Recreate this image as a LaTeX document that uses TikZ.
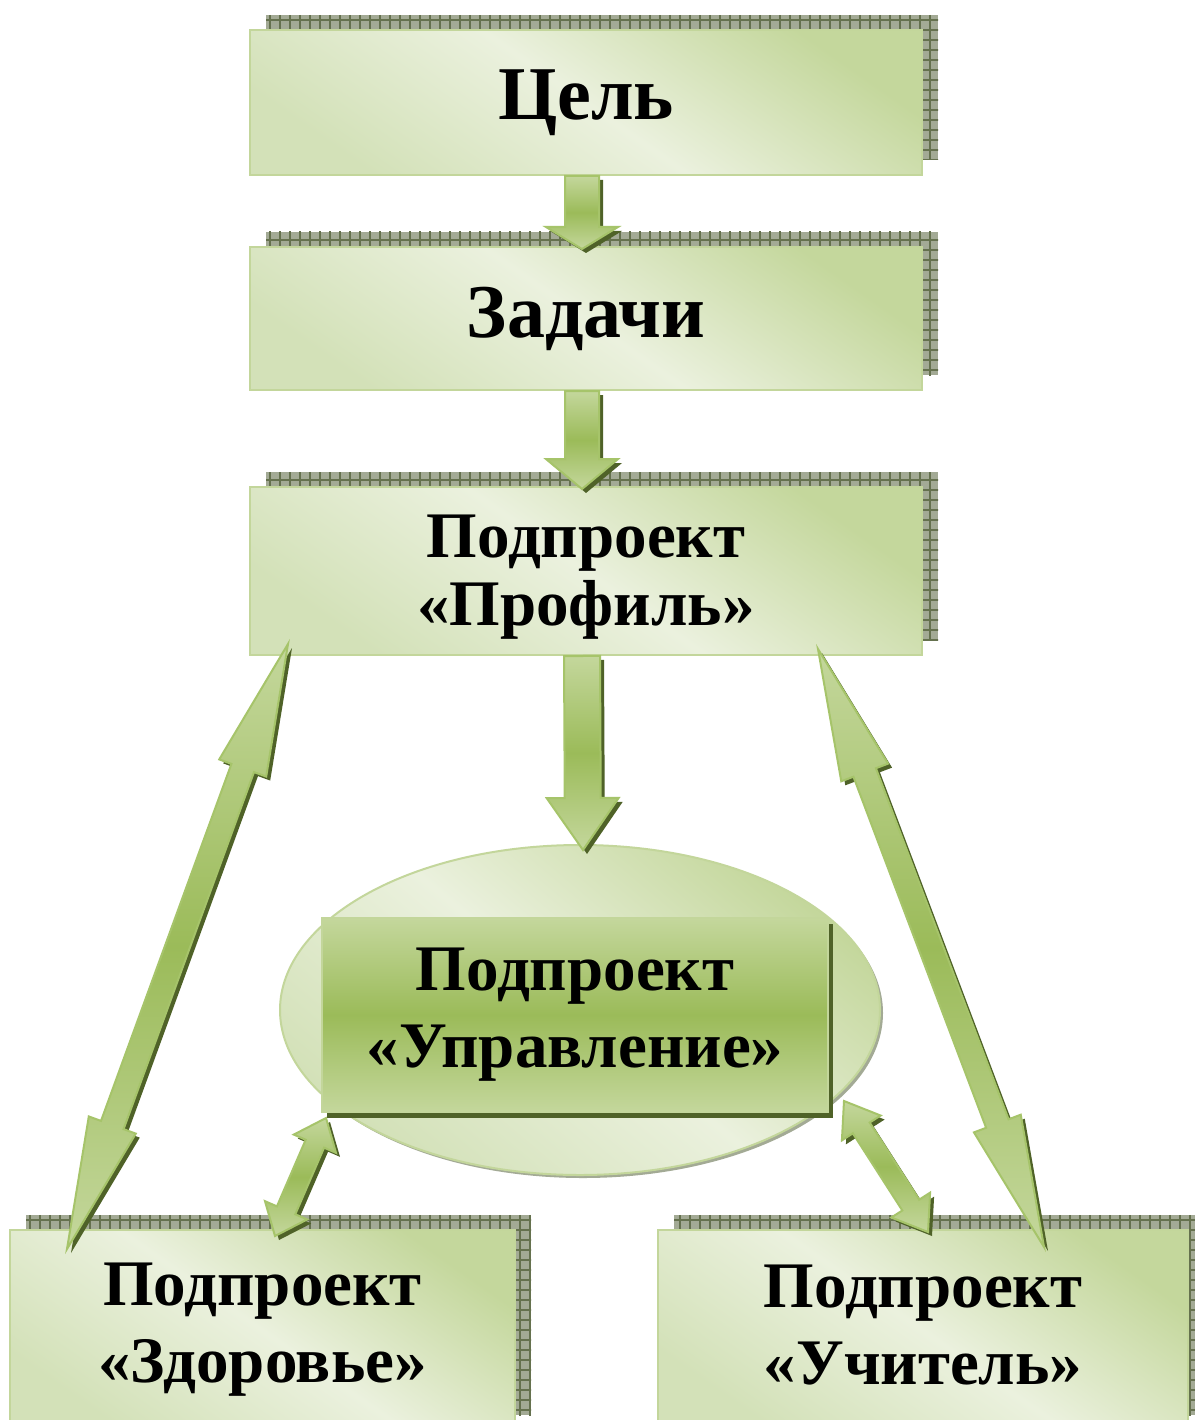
\documentclass[tikz,border=0pt]{standalone}
\usepackage{fontspec}
\setmainfont{Liberation Serif}
\usetikzlibrary{calc,shapes.geometric,patterns.meta}
\definecolor{gA}{HTML}{C4D79C}
\definecolor{gB}{HTML}{EBF1DE}
\definecolor{gC}{HTML}{D3E1B8}
\definecolor{gBorder}{HTML}{C3D69B}
\definecolor{gMid}{HTML}{9BBB59}
\definecolor{gDark}{HTML}{4F6228}
\definecolor{gEdge}{HTML}{A6C46A}
\definecolor{shBg}{HTML}{A3AA95}
\definecolor{shGrid}{HTML}{65714E}
\tikzset{
  boxsty/.style={rectangle, draw=gBorder, line width=2pt,
    top color=gA, bottom color=gC, middle color=gB, shading angle=-35,
    inner sep=0pt, align=center, text=black,
    font=\bfseries\fontsize{65}{68}\selectfont,
    preaction={fill=shBg, transform canvas={xshift=16pt,yshift=15pt}},
    preaction={pattern={Hatch[angle=0,distance=10pt,line width=1.2pt]}, pattern color=shGrid,
      transform canvas={xshift=16pt,yshift=15pt}}},
  ovalsty/.style={ellipse, draw=gBorder, line width=2pt,
    top color=gA, bottom color=gC, middle color=gB, shading angle=-40,
    inner sep=0pt, minimum width=600pt, minimum height=330pt,
    preaction={fill=shBg, transform canvas={xshift=3pt,yshift=-3pt}}},
  ctrlsty/.style={rectangle, draw=gBorder, line width=2pt,
    top color=gA, bottom color=gA, middle color=gMid,
    inner sep=0pt, align=center, text=black,
    font=\bfseries\fontsize{65}{77}\selectfont,
    preaction={fill=gDark, transform canvas={xshift=5pt,yshift=-6pt}}},
  arrowsty/.style={draw=gEdge, line width=2pt, line join=miter,
    top color=gA, bottom color=gA, middle color=gMid,
    preaction={fill=gDark, transform canvas={xshift=4pt,yshift=-4pt}}}
}
% single block arrow: #1 start, #2 tip, #3 half shaft, #4 half head, #5 head length
\newcommand\sglarrow[5]{%
  \coordinate (hb) at ($(#2)!#5!(#1)$);
  \draw[arrowsty] ($(#1)!#3!90:(#2)$) -- ($(hb)!#3!-90:(#1)$) -- ($(hb)!#4!-90:(#1)$)
    -- (#2) -- ($(hb)!#4!90:(#1)$) -- ($(hb)!#3!90:(#1)$) -- ($(#1)!#3!-90:(#2)$) -- cycle;
}
% double block arrow
\newcommand\dblarrow[5]{%
  \coordinate (ha) at ($(#1)!#5!(#2)$);
  \coordinate (hb) at ($(#2)!#5!(#1)$);
  \draw[arrowsty] (#1) -- ($(ha)!#4!90:(#2)$) -- ($(ha)!#3!90:(#2)$) -- ($(hb)!#3!-90:(#1)$)
    -- ($(hb)!#4!-90:(#1)$) -- (#2) -- ($(hb)!#4!90:(#1)$) -- ($(hb)!#3!90:(#1)$)
    -- ($(ha)!#3!-90:(#2)$) -- ($(ha)!#4!-90:(#2)$) -- cycle;
}
\begin{document}
\begin{tikzpicture}[x=1pt,y=-1pt]
\useasboundingbox (0,0) rectangle (1194,1420);
\fill[white] (0,0) rectangle (1194,1420);

\node[boxsty, minimum width=672pt, minimum height=145pt, font=\bfseries\fontsize{76}{80}\selectfont]
  (goal) at (586,102.5) {\raisebox{4pt}{Цель}};
\node[boxsty, minimum width=672pt, minimum height=143pt, font=\bfseries\fontsize{76}{80}\selectfont]
  (task) at (586,318.5) {Задачи};
\node[boxsty, minimum width=672pt, minimum height=168pt] (profile) at (586,571)
  {\rule{0pt}{55pt}Подпроект\\«Профиль»};
\node[boxsty, minimum width=505pt, minimum height=200pt, font=\bfseries\fontsize{65}{77}\selectfont]
  (health) at (262.5,1330) {Подпроект\\«Здоровье»};
\node[boxsty, minimum width=530pt, minimum height=200pt, font=\bfseries\fontsize{65}{77}\selectfont]
  (teacher) at (923,1330) {Подпроект\\«Учитель»\vphantom{д}};

\node[ovalsty] (oval) at (580,1010) {};
\node[ctrlsty, minimum width=506pt, minimum height=194pt] (ctrl) at (575,1015)
  {Подпроект\\«Управление»};

% vertical arrows
\coordinate (a1s) at ([xshift=-4pt]goal.south);
\coordinate (a1e) at ([xshift=-4pt,yshift=-3pt]task.north);
\sglarrow{a1s}{a1e}{17pt}{36pt}{22pt}
\coordinate (a2s) at ([xshift=-4pt]task.south);
\coordinate (a2e) at ([xshift=-4pt,yshift=-3pt]profile.north);
\sglarrow{a2s}{a2e}{17pt}{36pt}{30pt}
\coordinate (a3s) at ([xshift=-4pt]profile.south);
\coordinate (a3e) at ([xshift=3pt,yshift=-6pt]oval.north);
\sglarrow{a3s}{a3e}{18pt}{36pt}{52pt}

% big double arrows
\coordinate (l1) at ([xshift=39pt,yshift=12pt]profile.south west);
\coordinate (l2) at ([xshift=58pt,yshift=-20pt]health.north west);
\dblarrow{l1}{l2}{12pt}{25pt}{132pt}
\coordinate (r1) at ([xshift=-105pt,yshift=7pt]profile.south east);
\coordinate (r2) at ([xshift=-145pt,yshift=-18pt]teacher.north east);
\dblarrow{r1}{r2}{12pt}{25pt}{132pt}

% small double arrows
\coordinate (s1) at ([xshift=5pt,yshift=-5pt]ctrl.south west);
\coordinate (s2) at ([xshift=12.5pt,yshift=-7pt]health.north);
\dblarrow{s1}{s2}{10pt}{23pt}{28pt}
\coordinate (t1) at ([xshift=15pt,yshift=12pt]ctrl.south east);
\coordinate (t2) at ([xshift=5pt,yshift=-3pt]teacher.north);
\dblarrow{t1}{t2}{10pt}{23pt}{32pt}
\end{tikzpicture}
\end{document}
